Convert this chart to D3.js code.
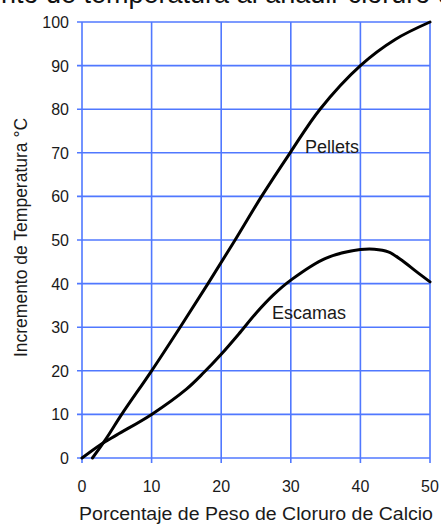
<!DOCTYPE html>
<html>
<head>
<meta charset="utf-8">
<script src="https://cdn.jsdelivr.net/npm/d3@7/dist/d3.min.js"></script>
<style>
  html, body { margin: 0; padding: 0; background: #fff; }
  svg { display: block; }
  text { font-family: "Liberation Sans", Arial, sans-serif; }
</style>
</head>
<body>
<svg id="chart" width="441" height="530"></svg>
<script>
// Temperature rise vs. calcium chloride weight percentage
const pelletsX = [1.5, 3.5, 5.7, 10, 14.1, 18.1, 22, 25.8, 29.9, 34.2, 40, 45, 50];
const pelletsY = [0, 4.5, 10, 20, 30, 40, 50, 60, 70, 80, 90, 96, 100];
const escamasX = [0, 2.6, 5, 10, 15, 17.5, 20, 22.5, 25, 27.5, 30, 35, 40, 42, 44, 46, 48, 50];
const escamasY = [0, 3, 5.3, 10, 15.8, 19.6, 23.8, 28.4, 33.2, 37.4, 40.8, 45.8, 47.8, 47.9, 47.3, 45.3, 42.8, 40.4];
const xTicks = [0, 10, 20, 30, 40, 50];
const yTicks = [0, 10, 20, 30, 40, 50, 60, 70, 80, 90, 100];
const seriesLabels = ["Pellets", "Escamas"];
const titleText = "Incremento de temperatura al añadir cloruro de calcio";
const xTitle = "Porcentaje de Peso de Cloruro de Calcio";
const yTitle = "Incremento de Temperatura °C";

const svg = d3.select("#chart");
const gridColor = "#5078ff";
const textColor = "#1a1a1a";

const x = d3.scaleLinear().domain([0, 50]).range([82, 430]);
const y = d3.scaleLinear().domain([0, 100]).range([458, 22]);

// Title, running off the top edge
const title = svg.append("text")
  .attr("y", 3)
  .attr("font-size", 27)
  .attr("fill", "#111")
  .text(titleText);
const prefix = svg.append("text").attr("font-size", 27).text("Increme");
const prefixW = prefix.node().getComputedTextLength();
prefix.remove();
title.attr("x", -prefixW + 1);

// Grid
svg.append("g").selectAll("line").data(xTicks).join("line")
  .attr("x1", d => x(d)).attr("x2", d => x(d))
  .attr("y1", y(100)).attr("y2", y(0) + 5)
  .attr("stroke", gridColor).attr("stroke-width", 1.6);
svg.append("g").selectAll("line").data(yTicks).join("line")
  .attr("x1", x(0) - 5).attr("x2", x(50))
  .attr("y1", d => y(d)).attr("y2", d => y(d))
  .attr("stroke", gridColor).attr("stroke-width", 1.6);

// Tick labels
svg.append("g").selectAll("text").data(yTicks).join("text")
  .attr("x", x(0) - 13).attr("y", d => y(d) + 6)
  .attr("text-anchor", "end").attr("font-size", 16).attr("fill", textColor)
  .text(d => d);
svg.append("g").selectAll("text").data(xTicks).join("text")
  .attr("x", d => x(d)).attr("y", y(0) + 34)
  .attr("text-anchor", "middle").attr("font-size", 16).attr("fill", textColor)
  .text(d => d);

// Axis titles
svg.append("text")
  .attr("x", 256).attr("y", 520)
  .attr("text-anchor", "middle").attr("font-size", 17.5).attr("fill", textColor)
  .attr("textLength", 354).attr("lengthAdjust", "spacingAndGlyphs")
  .text(xTitle);
svg.append("text")
  .attr("transform", `translate(27, 237.5) rotate(-90)`)
  .attr("text-anchor", "middle").attr("font-size", 17.5).attr("fill", textColor)
  .text(yTitle);

// Curves
const line = d3.line().x(d => x(d[0])).y(d => y(d[1])).curve(d3.curveCatmullRom.alpha(0.5));
const pellets = pelletsX.map((v, i) => [v, pelletsY[i]]);
const escamas = escamasX.map((v, i) => [v, escamasY[i]]);
[pellets, escamas].forEach(s => {
  svg.append("path").datum(s)
    .attr("d", line)
    .attr("fill", "none").attr("stroke", "#000")
    .attr("stroke-width", 3).attr("stroke-linecap", "round");
});

// Series labels
svg.append("text").attr("x", 305).attr("y", 153)
  .attr("font-size", 18).attr("fill", textColor).text(seriesLabels[0]);
svg.append("text").attr("x", 272).attr("y", 319)
  .attr("font-size", 18).attr("fill", textColor).text(seriesLabels[1]);
</script>
</body>
</html>
